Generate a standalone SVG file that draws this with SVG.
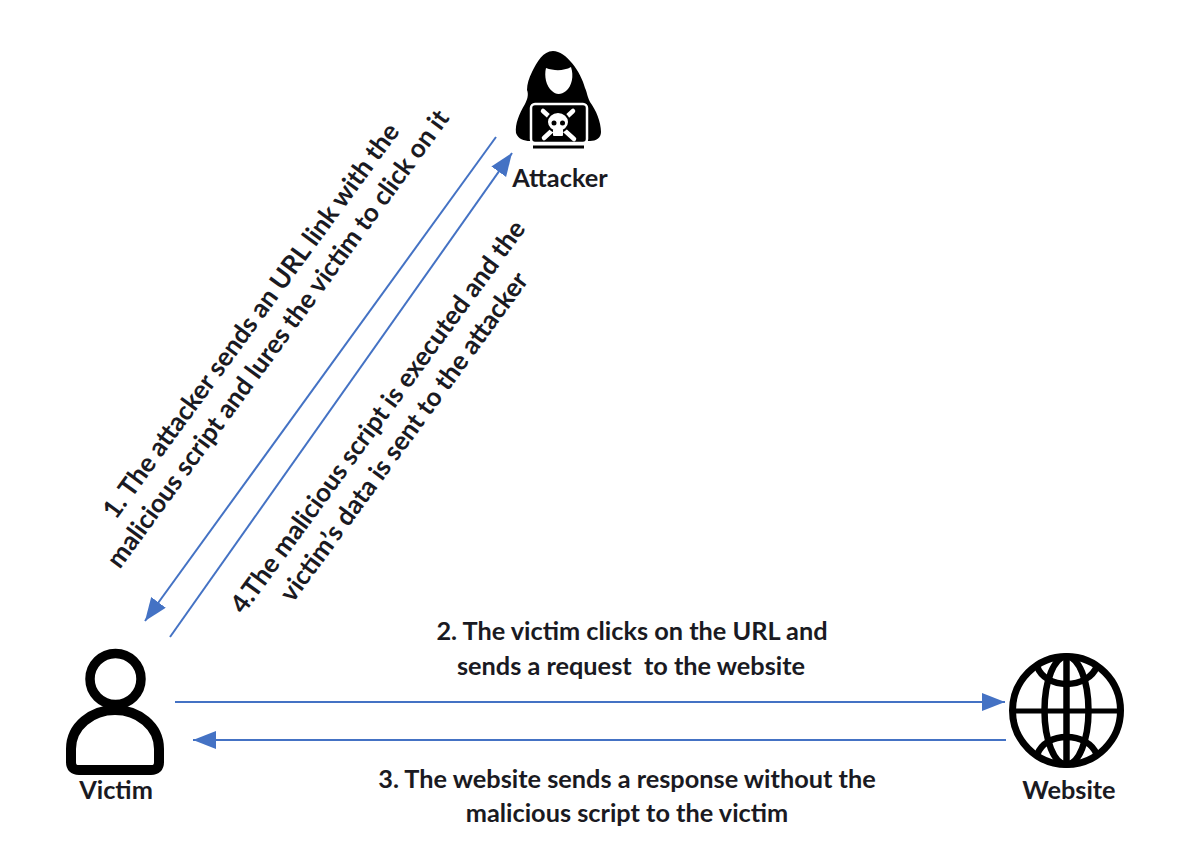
<svg xmlns="http://www.w3.org/2000/svg" width="1202" height="860" viewBox="0 0 1202 860">
<style>
.t{font-family:Lato,"Open Sans","Liberation Sans",sans-serif;font-weight:700;font-size:25.300px;fill:#1a1a22;text-anchor:middle}
.r{font-size:26px}
.c{stroke:#4472c4;stroke-width:2;fill:none;marker-end:url(#a)}
</style>
<defs><marker id="a" markerUnits="userSpaceOnUse" markerWidth="26" markerHeight="20" refX="23" refY="9" orient="auto"><path d="M0 0L23 9L0 18Z" fill="#4472c4"/></marker></defs>
<rect width="1202" height="860" fill="#fff"/>
<g id="connectors">
<path class="c" d="M496 137L145 621"/>
<path class="c" d="M170 637L512 153"/>
<path class="c" d="M175 702L1005 702"/>
<path class="c" d="M1006 740L193 740"/>
</g>
<g id="attacker">
<path d="M553 51C543 51 537 62 532 72C529 78 527 84 527 90C529 95 527 100 525 104C519 114 515 124 516 133C518 139 524 141 530 141L590 141C596 141 601 138 601 132C601 122 596 110 590 102C587 96 587 92 585 88C581 72 566 51 553 51Z" fill="#000"/>
<path d="M546 68C554 71 564 71 571 67C574 76 572 86 566 91C561 95 556 95 552 91C546 86 544 76 546 68Z" fill="#fff"/>
<rect x="531" y="104" width="56" height="39" rx="4" fill="#000" stroke="#fff" stroke-width="2.500"/>
<path d="M533 147L584 147" stroke="#000" stroke-width="3"/>
<path d="M543 111L574 139M573 111L544 138" stroke="#fff" stroke-width="4.500" stroke-linecap="round"/>
<ellipse cx="558" cy="122" rx="11" ry="10" fill="#fff" stroke="#000" stroke-width="2"/>
<rect x="553" y="129" width="10" height="7" rx="1" fill="#fff"/>
<circle cx="554" cy="123" r="2.500" fill="#000"/><circle cx="562.500" cy="123" r="2.500" fill="#000"/>
<text class="t" x="560" y="187">Attacker</text>
</g>
<g id="victim">
<circle cx="115.500" cy="679" r="25.500" fill="none" stroke="#000" stroke-width="9.500"/>
<path d="M79 770H151Q159 770 159 762V749C159 726 138 710 115 710C92 710 71 726 71 749V762Q71 770 79 770Z" fill="none" stroke="#000" stroke-width="10"/>
<text class="t" x="116" y="799">Victim</text>
</g>
<g id="website" fill="none" stroke="#000">
<circle cx="1066.500" cy="710.500" r="54" stroke-width="7"/>
<ellipse cx="1066.500" cy="710.500" rx="22" ry="54" stroke-width="6.500"/>
<path d="M1066.500 657V764" stroke-width="6.500"/>
<path d="M1013 711H1120" stroke-width="5"/>
<path d="M1037 666C1045 690 1088 690 1097 666M1037 755C1045 731 1088 731 1097 755" stroke-width="6.500"/>
<text class="t" x="1069" y="799" stroke="none">Website</text>
</g>
<g id="labels">
<text class="t r" transform="translate(258 326) rotate(-53.800)">1. The attacker sends an URL link with the</text>
<text class="t r" transform="translate(285 344) rotate(-53.800)">malicious script and lures the victim to click on it</text>
<text class="t r" transform="translate(385 422) rotate(-53.800)">4.The malicious script is executed and the</text>
<text class="t r" transform="translate(411 442) rotate(-53.800)">victim’s data is sent to the attacker</text>
<text class="t" x="632" y="640">2. The victim clicks on the URL and</text>
<text class="t" x="631" y="675" xml:space="preserve">sends a request  to the website</text>
<text class="t" x="627" y="788">3. The website sends a response without the</text>
<text class="t" x="627" y="822">malicious script to the victim</text>
</g>
</svg>
